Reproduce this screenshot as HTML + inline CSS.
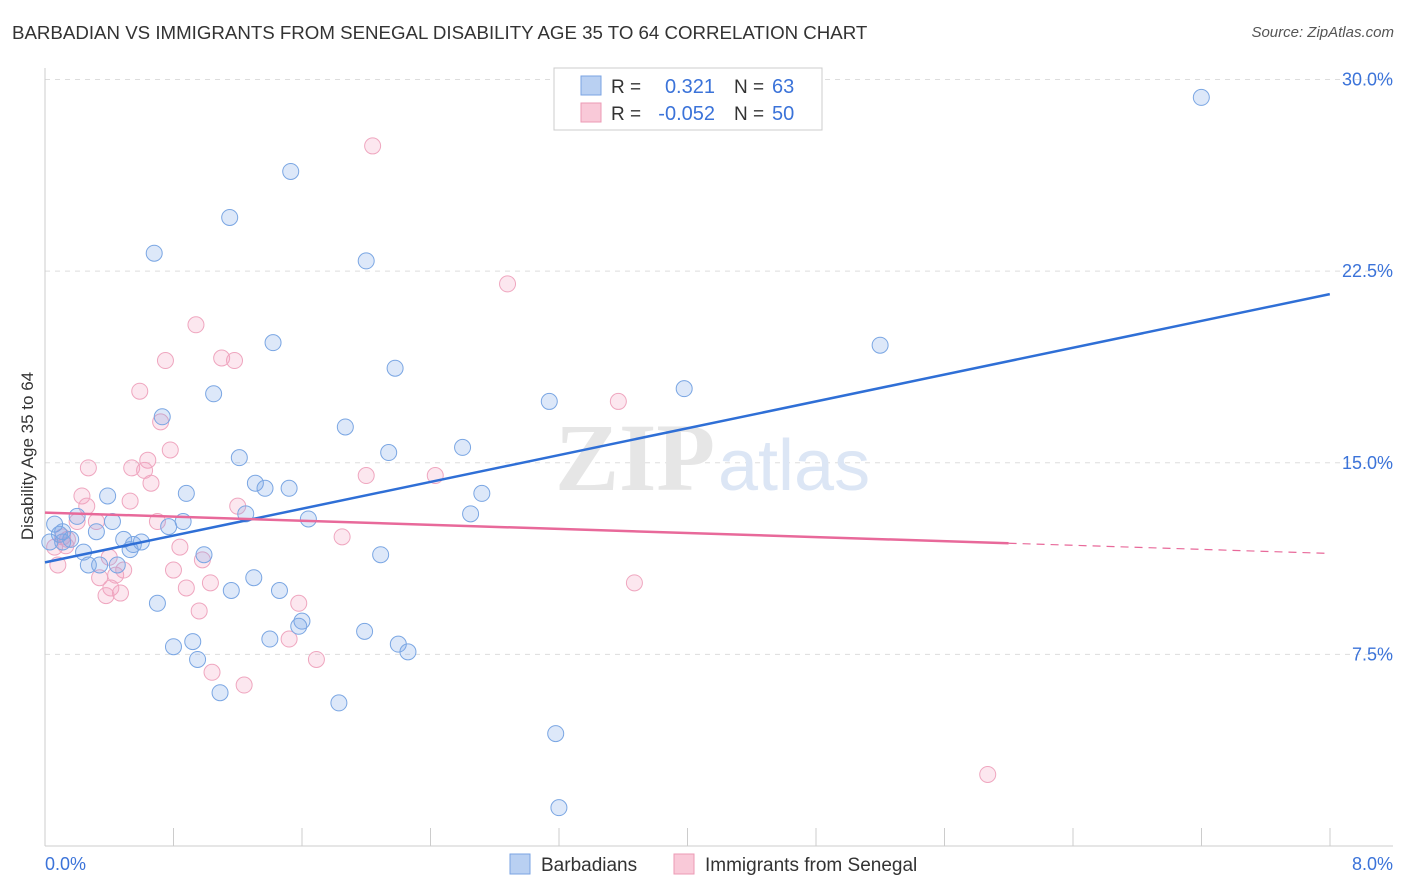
<!DOCTYPE html>
<html><head><meta charset="utf-8">
<style>
body{margin:0;background:#fff;font-family:"Liberation Sans",sans-serif;}
#wrap{position:relative;width:1406px;height:892px;overflow:hidden;}
.t{position:absolute;white-space:nowrap;}
</style></head>
<body>
<div id="wrap">
<div class="t" style="left:12px;top:22px;font-size:18.7px;color:#333;">BARBADIAN VS IMMIGRANTS FROM SENEGAL DISABILITY AGE 35 TO 64 CORRELATION CHART</div>
<div class="t" style="right:12px;top:24px;font-size:15px;color:#555;font-style:italic;">Source: ZipAtlas.com</div>
<svg id="svg" width="1406" height="892" style="position:absolute;left:0;top:0"></svg>
</div>
<script>
const xTicks=[0,8];
const yTicks=[7.5,15,22.5,30];
const blueX=[7.2,1.53,1.15,0.68,2.0,1.42,5.2,2.18,1.05,3.98,3.14,0.73,1.87,2.6,2.14,1.21,1.31,1.37,1.52,0.88,0.39,2.72,1.25,2.65,0.2,1.64,0.42,0.86,0.06,0.77,0.11,0.32,0.16,0.11,0.49,0.6,0.55,0.53,0.24,0.99,2.09,0.45,0.34,0.27,1.3,1.16,1.46,0.7,1.6,1.58,1.99,1.4,0.92,0.8,2.2,2.26,0.95,1.09,1.83,3.18,3.2,0.09,0.03];
const blueY=[29.3,26.4,24.6,23.2,22.9,19.7,19.6,18.7,17.7,17.9,17.4,16.8,16.4,15.6,15.4,15.2,14.2,14.0,14.0,13.8,13.7,13.8,13.0,13.0,12.9,12.8,12.7,12.7,12.6,12.5,12.3,12.3,12.0,11.9,12.0,11.9,11.8,11.6,11.5,11.4,11.4,11.0,11.0,11.0,10.5,10.0,10.0,9.5,8.8,8.6,8.4,8.1,8.0,7.8,7.9,7.6,7.3,6.0,5.6,4.4,1.5,12.2,11.9];
const pinkX=[2.04,2.88,0.94,1.1,0.75,1.18,0.59,3.57,0.72,0.78,0.64,0.27,0.54,0.62,2.43,2.0,0.66,0.23,0.26,0.53,1.2,0.2,0.32,0.7,1.85,0.84,0.06,0.14,0.11,0.4,0.98,0.8,0.08,0.34,0.44,0.49,1.03,0.88,3.67,0.41,0.38,0.47,1.58,0.96,1.52,1.69,1.04,1.24,5.87,0.13];
const pinkY=[27.4,22.0,20.4,19.1,19.0,19.0,17.8,17.4,16.6,15.5,15.1,14.8,14.8,14.7,14.5,14.5,14.2,13.7,13.3,13.5,13.3,12.7,12.7,12.7,12.1,11.7,11.7,12.0,12.1,11.3,11.2,10.8,11.0,10.5,10.6,10.8,10.3,10.1,10.3,10.1,9.8,9.9,9.5,9.2,8.1,7.3,6.8,6.3,2.8,11.75];
const blueLine=[11.1,21.6];
const pinkLine=[13.05,11.45];
const pinkSolidEnd=6.0;

const X=v=>45+v*160.6, Y=v=>846-v*25.55;
const svg=document.getElementById('svg');const NS='http://www.w3.org/2000/svg';
function mk(t,a,p){const e=document.createElementNS(NS,t);for(const k in a)e.setAttribute(k,a[k]);(p||svg).appendChild(e);return e;}
yTicks.forEach(v=>{const l=mk('line',{x1:45,x2:1393,y1:Y(v),y2:Y(v),stroke:'#ddd','stroke-dasharray':'5,5'});


const t=mk('text',{x:1393,y:Y(v)+6,'text-anchor':'end','font-size':18,fill:'#3b73d9','font-family':'Liberation Sans'});t.textContent=v.toFixed(1)+'%';

});
mk('line',{x1:45,x2:45,y1:68,y2:846,stroke:'#ccc'});
mk('line',{x1:45,x2:1393,y1:846,y2:846,stroke:'#ccc'});
for(let i=0;i<=10;i++){mk('line',{x1:45+i*128.5,x2:45+i*128.5,y1:828,y2:846,stroke:'#ccc'});}
xTicks.forEach((v,i)=>{const t=mk('text',{x:i?1393:45,y:870,'text-anchor':i?'end':'start','font-size':18,fill:'#3b73d9','font-family':'Liberation Sans'});t.textContent=v.toFixed(1)+'%';

});
const yt=mk('text',{x:0,y:0,transform:'translate(33,456) rotate(-90)','text-anchor':'middle','font-size':17,fill:'#333','font-family':'Liberation Sans'});yt.textContent='Disability Age 35 to 64';


const wm=mk('text',{x:555,y:490,'font-size':96,fill:'#e6e6e6','font-family':'Liberation Serif','font-weight':'bold'});wm.textContent='ZIP';


const wm2=mk('text',{x:718,y:490,'font-size':72,fill:'#dce6f5','font-family':'Liberation Sans'});wm2.textContent='atlas';


function pts(xs,ys,fill,stroke,name){xs.forEach((x,i)=>{const c=mk('circle',{cx:X(x),cy:Y(ys[i]),r:8,fill:fill,stroke:stroke,'stroke-width':1});

});}
pts(pinkX,pinkY,'rgba(244,160,190,0.25)','#efa6bf','senegal-point');
pts(blueX,blueY,'rgba(120,165,230,0.25)','#7aa6e3','barbadian-point');
const bl=mk('line',{x1:X(0),y1:Y(blueLine[0]),x2:X(8),y2:Y(blueLine[1]),stroke:'#2f6fd6','stroke-width':2.5});


const pAt=v=>pinkLine[0]+(pinkLine[1]-pinkLine[0])*v/8;
const pl=mk('line',{x1:X(0),y1:Y(pinkLine[0]),x2:X(pinkSolidEnd),y2:Y(pAt(pinkSolidEnd)),stroke:'#e8699a','stroke-width':2.5});


const pd=mk('line',{x1:X(pinkSolidEnd),y1:Y(pAt(pinkSolidEnd)),x2:X(8),y2:Y(pinkLine[1]),stroke:'#e8699a','stroke-width':1.2,'stroke-dasharray':'8,6'});


const g=mk('g',{});


mk('rect',{x:554,y:68,width:268,height:62,fill:'#fff',stroke:'#ccc'},g);
mk('rect',{x:581,y:76,width:20,height:19,fill:'#b9d0f2',stroke:'#7aa3e3'},g);
mk('rect',{x:581,y:103,width:20,height:19,fill:'#f9c9d8',stroke:'#ec9ab5'},g);
[['R = ','0.321','63',93],['R = ','-0.052','50',120]].forEach(r=>{
 const a=mk('text',{x:611,y:r[3],'font-size':19,fill:'#333','font-family':'Liberation Sans'},g);a.textContent=r[0];
 const b=mk('text',{x:715,y:r[3],'font-size':20,fill:'#3b73d9','text-anchor':'end','font-family':'Liberation Sans'},g);b.textContent=r[1];
 const c=mk('text',{x:734,y:r[3],'font-size':19,fill:'#333','font-family':'Liberation Sans'},g);c.textContent='N = ';
 const d=mk('text',{x:772,y:r[3],'font-size':20,fill:'#3b73d9','font-family':'Liberation Sans'},g);d.textContent=r[2];});
const lg=mk('g',{});


mk('rect',{x:510,y:854,width:20,height:20,fill:'#b9d0f2',stroke:'#7aa3e3'},lg);
const l1=mk('text',{x:541,y:871,'font-size':19,fill:'#333','font-family':'Liberation Sans'},lg);l1.textContent='Barbadians';
mk('rect',{x:674,y:854,width:20,height:20,fill:'#f9c9d8',stroke:'#ec9ab5'},lg);
const l2=mk('text',{x:705,y:871,'font-size':19,fill:'#333','font-family':'Liberation Sans'},lg);l2.textContent='Immigrants from Senegal';
</script>
</body></html>
